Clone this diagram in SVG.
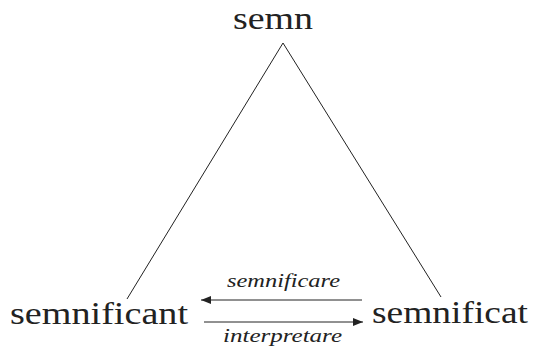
<svg xmlns="http://www.w3.org/2000/svg" width="533" height="347" viewBox="0 0 533 347">
<style>
.n{font-family:"Liberation Serif","DejaVu Serif",serif;font-size:31px;fill:#222}
.l{font-family:"Liberation Serif","DejaVu Serif",serif;font-style:italic;font-size:18px;fill:#222}
.c{stroke:#222;stroke-width:1;fill:none}
</style>
<defs>
<marker id="ah" viewBox="0 0 10 10" refX="10" refY="5" markerWidth="10" markerHeight="10" markerUnits="userSpaceOnUse" orient="auto">
<path d="M0,1 L10,5 L0,9 Z" fill="#222"/>
</marker>
</defs>
<g id="semn"><text class="n" x="233" y="29" textLength="80" lengthAdjust="spacingAndGlyphs">semn</text></g>
<g id="semnificant"><text class="n" x="10" y="324" textLength="178" lengthAdjust="spacingAndGlyphs">semnificant</text></g>
<g id="semnificat"><text class="n" x="372" y="323" textLength="156" lengthAdjust="spacingAndGlyphs">semnificat</text></g>
<g id="connectors">
<line class="c" x1="283" y1="43" x2="127" y2="299"/>
<line class="c" x1="283" y1="43" x2="441" y2="297"/>
<line class="c" x1="362" y1="300" x2="201" y2="300" marker-end="url(#ah)"/>
<line class="c" x1="204" y1="322" x2="363" y2="322" marker-end="url(#ah)"/>
<text class="l" x="227" y="287" textLength="113" lengthAdjust="spacingAndGlyphs">semnificare</text>
<text class="l" x="223" y="342" textLength="119" lengthAdjust="spacingAndGlyphs">interpretare</text>
</g>
</svg>
